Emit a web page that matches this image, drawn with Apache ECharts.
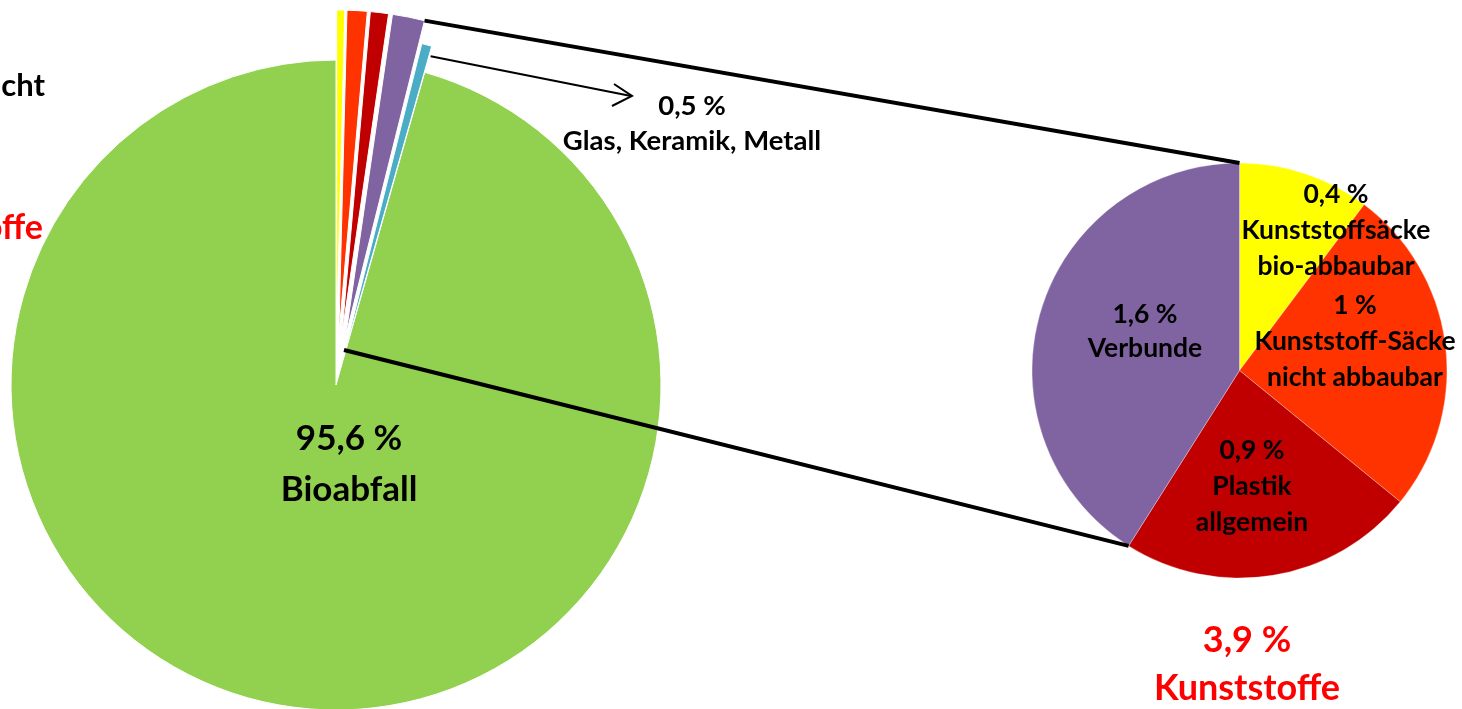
<!DOCTYPE html>
<html><head><meta charset="utf-8">
<script src="https://cdn.jsdelivr.net/npm/echarts@6/dist/echarts.min.js"></script>
<style>html,body{margin:0;padding:0;background:#fff;}#c{width:1462px;height:709px;}</style>
</head><body><div id="c"></div>
<script>
// Big pie (all components, %)
const bigNames = ['Kunststoffsäcke bio-abbaubar','Kunststoff-Säcke nicht abbaubar','Plastik allgemein','Verbunde','Glas, Keramik, Metall','Bioabfall'];
const bigValues = [0.4, 1, 0.9, 1.6, 0.5, 95.6];
const bigColors = ['#FFFF00','#FF3300','#C00000','#8064A2','#4BACC6','#92D050'];
// Small pie (Kunststoffe breakdown)
const smallNames = ['Kunststoffsäcke bio-abbaubar','Kunststoff-Säcke nicht abbaubar','Plastik allgemein','Verbunde'];
const smallValues = [0.4, 1, 0.9, 1.6];
const smallColors = ['#FFFF00','#FF3300','#C00000','#8064A2'];
const smallLabels = [['0,4 %','Kunststoffsäcke','bio-abbaubar'],['1 %','Kunststoff-Säcke','nicht abbaubar'],['0,9 %','Plastik','allgemein'],['1,6 %','Verbunde']];
const bigLabel = ['95,6 %','Bioabfall'];
const otherLabel = ['0,5 %','Glas, Keramik, Metall'];
const totalLabel = ['3,9 %','Kunststoffe'];

const chart = echarts.init(document.getElementById('c'));
const BC = [336, 385], BR = 325, OFF = 50, OFF2 = 27;
const SC = [1239.5, 370.5], SR = 207.5;
const FONT = 'Lato, "Open Sans", sans-serif';

const total = bigValues.reduce((a,b)=>a+b,0);
const sTotal = smallValues.reduce((a,b)=>a+b,0);
function cum(arr,i){let s=0;for(let k=0;k<i;k++)s+=arr[k];return s;}
function pt(c, r, angDeg){const a=angDeg*Math.PI/180;return [c[0]+r*Math.sin(a), c[1]-r*Math.cos(a)];}

const purpleIdx = 3;
const purpleMid = (cum(bigValues,purpleIdx)+bigValues[purpleIdx]/2)/total*360;
const purpleEnd = cum(bigValues,purpleIdx+1)/total*360;
const purpleApex = pt(BC, OFF, purpleMid);
const p1 = pt(purpleApex, BR, purpleEnd);
const cyanIdx = 4;
const cyanMid = (cum(bigValues,cyanIdx)+bigValues[cyanIdx]/2)/total*360;
const cyanEnd = cum(bigValues,cyanIdx+1)/total*360;
const cyanApex = pt(BC, OFF2, cyanMid);
const cyanOuter = pt(cyanApex, BR, cyanEnd);
const sTop = pt(SC, SR, 0);
const sRedEnd = pt(SC, SR, cum(smallValues,3)/sTotal*360);

const big1 = bigValues.map((v,i)=>({name:bigNames[i], value:v, selected: i<4,
  itemStyle:{color: i===4 ? 'rgba(0,0,0,0)' : bigColors[i], borderColor: i===4?'rgba(0,0,0,0)':'#fff', borderWidth: i===4?0:1}}));
const big2 = bigValues.map((v,i)=>({name:bigNames[i], value:v, selected: i===4,
  itemStyle:{color: i===4 ? bigColors[i] : 'rgba(0,0,0,0)', borderColor: i===4?'#fff':'rgba(0,0,0,0)', borderWidth: i===4?1:0}}));

function txt(x,y,lines,size,color,lh,align){
  return {type:'text', x:x, y:y, z:100, silent:true, style:{text:lines.join('\n'), font:'bold '+size+'px '+FONT, fill:color||'#000', align:align||'center', verticalAlign:'middle', lineHeight:lh}};
}

const labelPos = [[1336,230],[1355,341],[1252,486],[1145,331]];

chart.setOption({
  animation:false,
  series:[
    {type:'pie', z:1, center:BC, radius:BR, startAngle:90, clockwise:true, selectedMode:'multiple', selectedOffset:OFF, silent:true,
      label:{show:false}, labelLine:{show:false}, emphasis:{disabled:true}, data:big1},
    {type:'pie', z:1, center:BC, radius:BR, startAngle:90, clockwise:true, selectedMode:'multiple', selectedOffset:OFF2, silent:true,
      label:{show:false}, labelLine:{show:false}, emphasis:{disabled:true}, data:big2},
    {type:'pie', z:1, center:SC, radius:SR, startAngle:90, clockwise:true, silent:true,
      label:{show:false}, labelLine:{show:false}, emphasis:{disabled:true},
      data: smallValues.map((v,i)=>({name:smallNames[i], value:v, itemStyle:{color:smallColors[i], borderColor:'rgba(255,255,255,0.6)', borderWidth:0.5}}))}
  ],
  graphic:{elements:[
    {type:'line', z:50, silent:true, shape:{x1:p1[0], y1:p1[1], x2:sTop[0], y2:sTop[1]}, style:{stroke:'#000', lineWidth:4}},
    {type:'line', z:50, silent:true, shape:{x1:344, y1:350, x2:sRedEnd[0], y2:sRedEnd[1]}, style:{stroke:'#000', lineWidth:4}},
    {type:'line', z:50, silent:true, shape:{x1:cyanOuter[0]-1, y1:cyanOuter[1]+10, x2:631, y2:96}, style:{stroke:'#000', lineWidth:2}},
    {type:'polyline', z:50, silent:true, shape:{points:[[614,84],[632,96],[612,106]]}, style:{stroke:'#000', lineWidth:2, fill:null}},
    txt(labelPos[0][0], labelPos[0][1], smallLabels[0], 26.5, '#000', 36),
    txt(labelPos[1][0], labelPos[1][1], smallLabels[1], 26.5, '#000', 36),
    txt(labelPos[2][0], labelPos[2][1], smallLabels[2], 26.5, '#000', 36),
    txt(labelPos[3][0], labelPos[3][1], smallLabels[3], 26.5, '#000', 34),
    txt(349, 464, bigLabel, 35, '#000', 51),
    txt(692, 124, otherLabel, 27.5, '#000', 35),
    txt(1247, 664, totalLabel, 36, '#FF0000', 48),
    txt(45, 86, ['Gewicht'], 31, '#000', 32, 'right'),
    txt(43, 228, ['Fremdstoffe'], 34, '#FF0000', 34, 'right')
  ]}
});
</script></body></html>
